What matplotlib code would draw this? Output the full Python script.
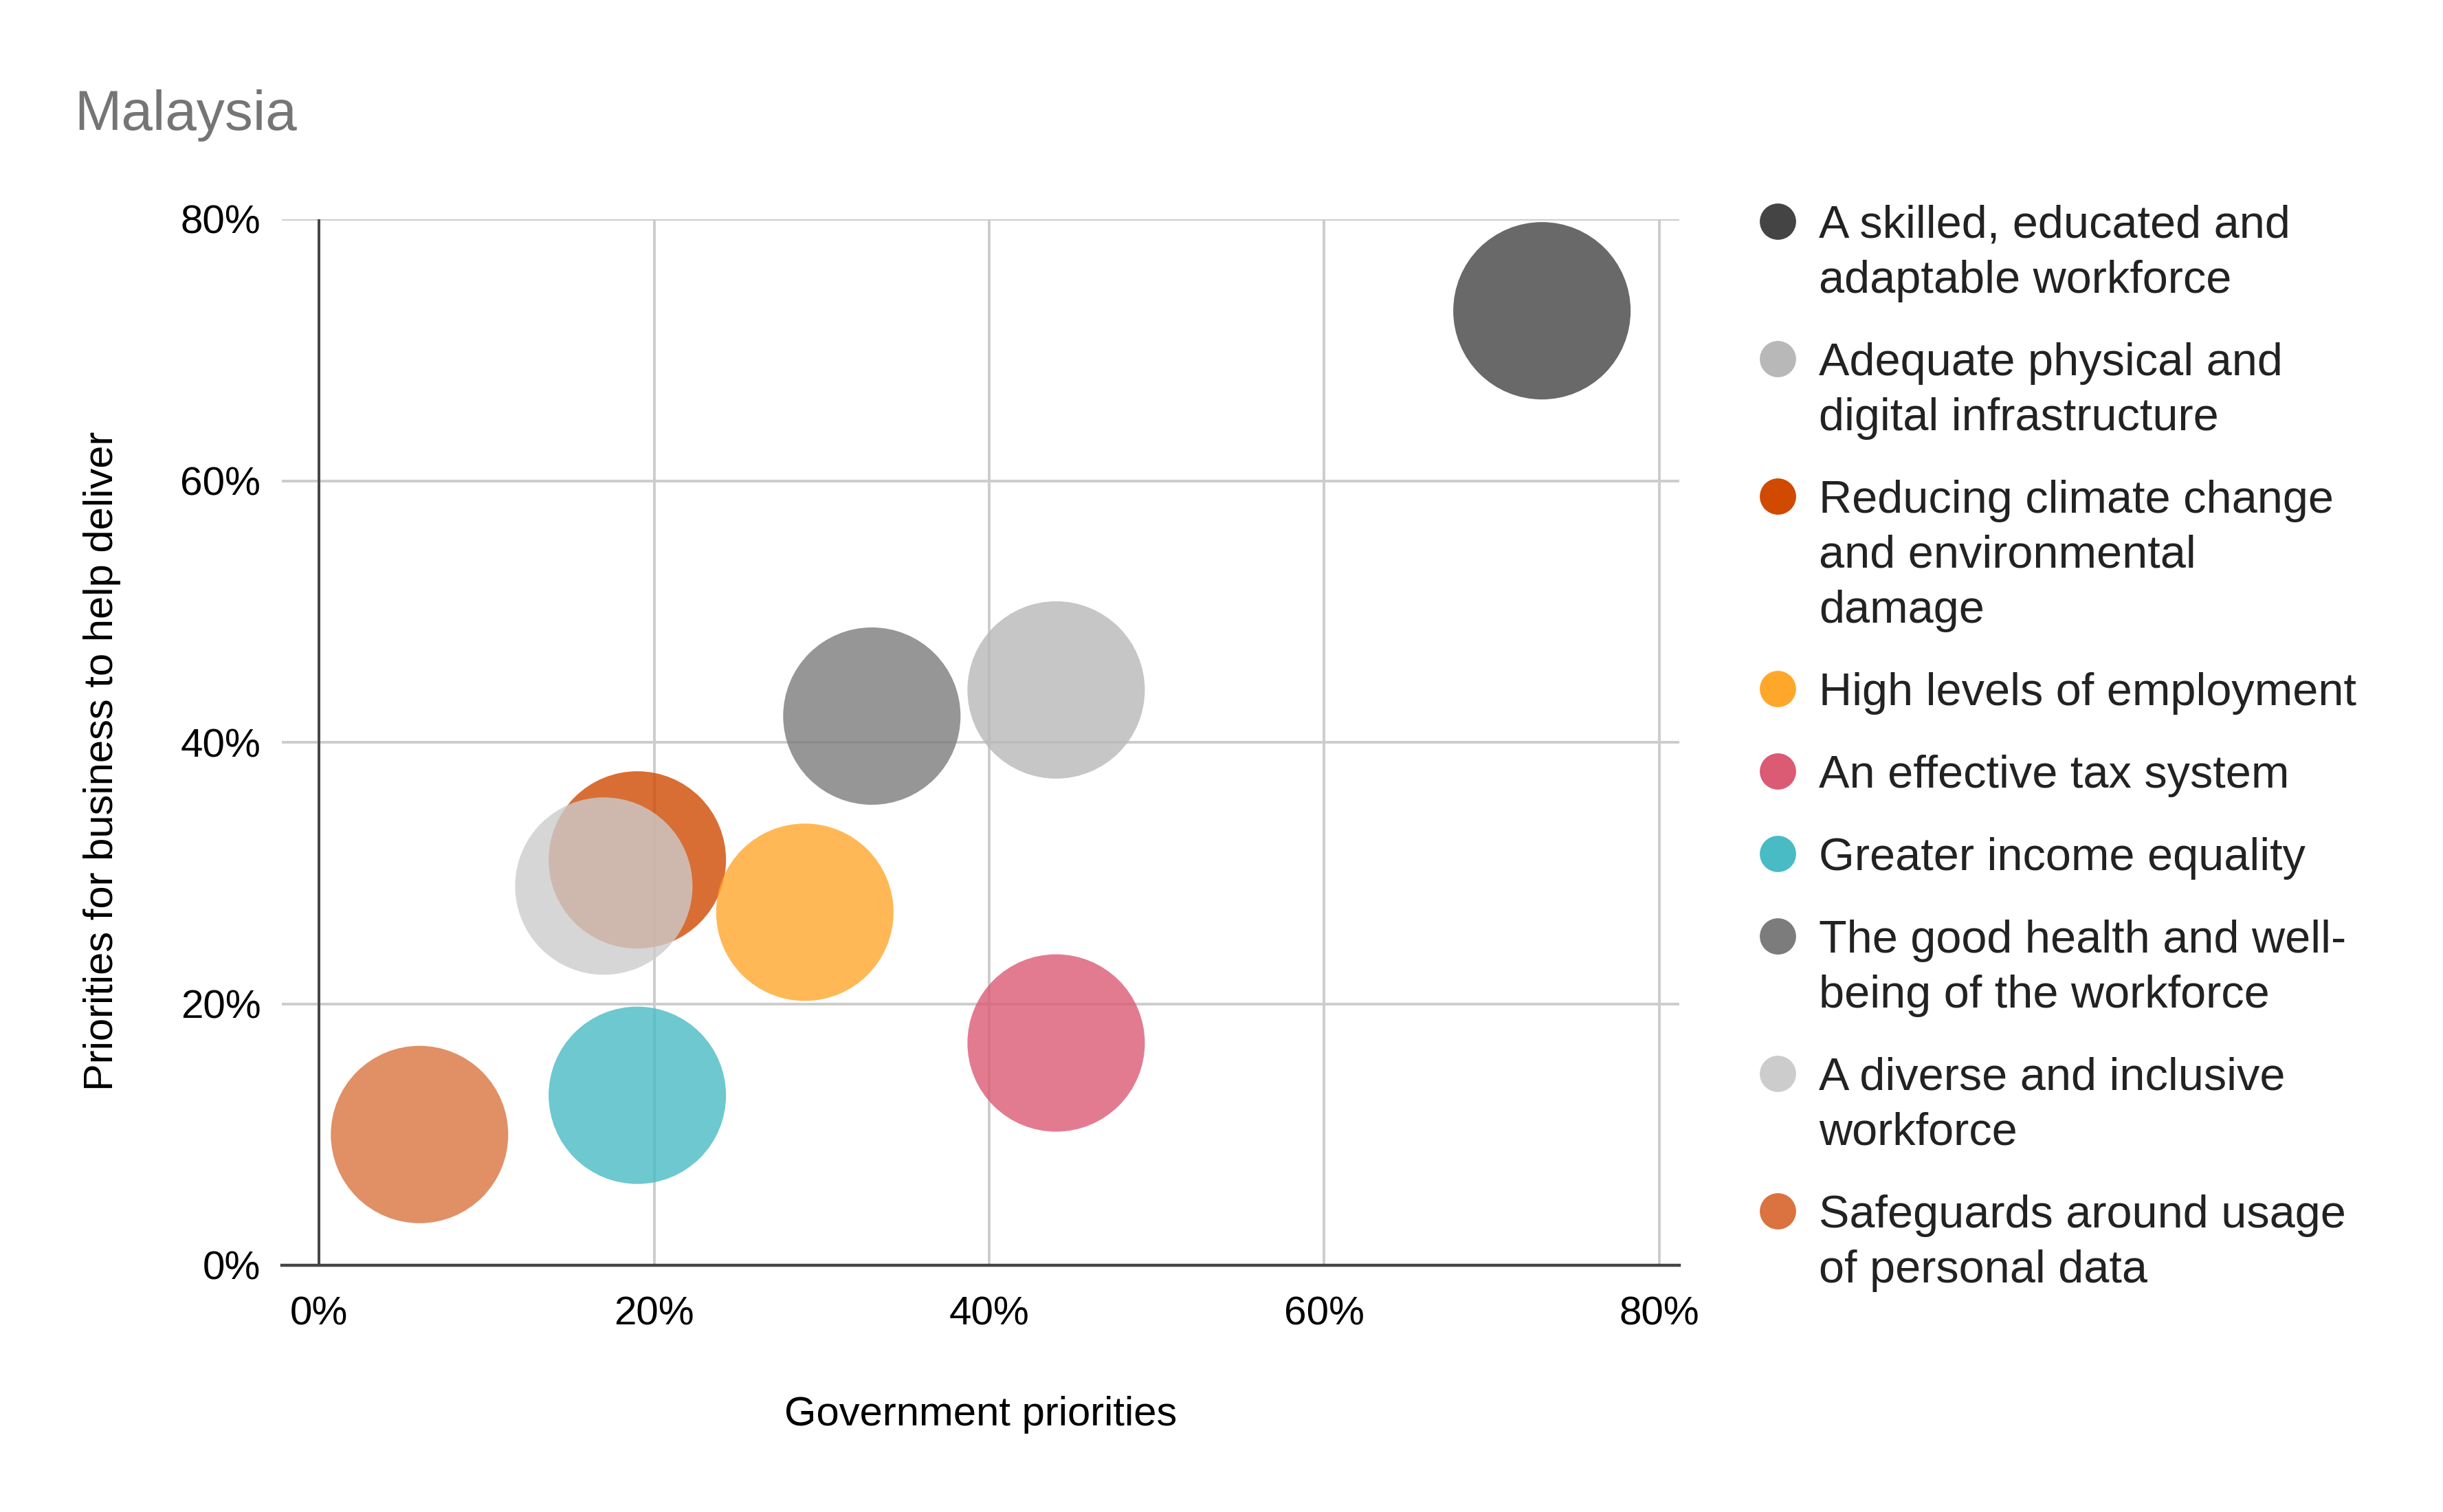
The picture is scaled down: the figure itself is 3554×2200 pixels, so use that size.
import matplotlib.pyplot as plt
from matplotlib.lines import Line2D
from matplotlib.ticker import PercentFormatter

plt.rcParams['font.family'] = ['Liberation Sans', 'DejaVu Sans']

# data
labels = [
    "A skilled, educated and\nadaptable workforce",
    "Adequate physical and\ndigital infrastructure",
    "Reducing climate change\nand environmental\ndamage",
    "High levels of employment",
    "An effective tax system",
    "Greater income equality",
    "The good health and well-\nbeing of the workforce",
    "A diverse and inclusive\nworkforce",
    "Safeguards around usage\nof personal data",
]
gov = [0.73, 0.44, 0.19, 0.29, 0.44, 0.19, 0.33, 0.17, 0.06]
biz = [0.73, 0.44, 0.31, 0.27, 0.17, 0.13, 0.42, 0.29, 0.10]
colors = ["#444444", "#b8b8b8", "#d04a02", "#ffa72a", "#db5a74",
          "#49bbc5", "#7c7c7c", "#cccccc", "#da733f"]
ticks = [0, 0.2, 0.4, 0.6, 0.8]

W, H = 3555, 2200
fig = plt.figure(figsize=(W / 200, H / 200), dpi=200)
ax = fig.add_axes([410 / W, 1 - 1841 / H, (2443 - 410) / W, (1841 - 319) / H])

for x, y, c in zip(gov, biz, colors):
    ax.scatter(x, y, s=8630, color=c, alpha=0.8, edgecolors="none", zorder=3, clip_on=False)

ax.set_xlim(-0.0222, 0.812)
ax.set_ylim(0, 0.8)
ax.set_xticks(ticks)
ax.set_yticks(ticks)
ax.xaxis.set_major_formatter(PercentFormatter(1.0, decimals=0))
ax.yaxis.set_major_formatter(PercentFormatter(1.0, decimals=0))
ax.grid(color="#cccccc", lw=1.4)
ax.set_axisbelow(True)
for s in ["top", "right", "left"]:
    ax.spines[s].set_visible(False)
ax.spines["bottom"].set_color("#444444")
ax.spines["bottom"].set_linewidth(1.6)
ax.axvline(0, color="#444444", lw=1.4, zorder=2)
ax.tick_params(length=0, labelsize=21, labelcolor="black")
ax.tick_params(axis="x", pad=16)
ax.tick_params(axis="y", pad=11)

ax.set_xlabel("Government priorities", fontsize=21.5, labelpad=33)
ax.set_ylabel("Priorities for business to help deliver", fontsize=21.5, labelpad=31, y=0.482)

fig.text(108 / W, 1 - 189 / H, "Malaysia", fontsize=29.5, color="#757575", va="baseline")

# legend drawn by hand so the marker sits on the first line
yc = 322
for lab, c in zip(labels, colors):
    fig.add_artist(Line2D([2586 / W], [1 - yc / H], transform=fig.transFigure,
                          marker="o", ms=18, color=c, ls="none"))
    lines = lab.split("\n")
    for k, line in enumerate(lines):
        fig.text(2646 / W, 1 - (yc + k * 80 + 24) / H, line, fontsize=24,
                 color="#222222", va="baseline")
    yc += len(lines) * 80 + 40

fig.savefig("out.png", dpi=200)
